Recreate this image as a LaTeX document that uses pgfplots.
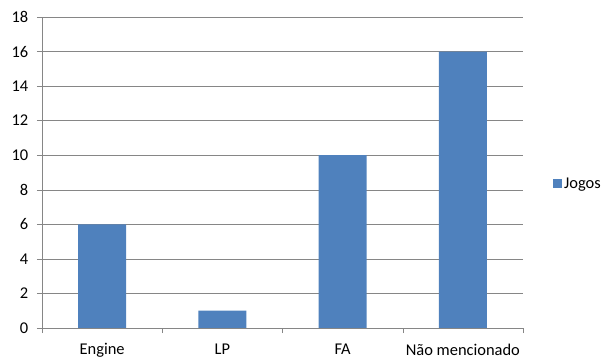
\documentclass[border=0pt]{standalone}
\usepackage{pgfplots}
\pgfplotsset{compat=1.18}
\usepackage{fontspec}
\setmainfont{Carlito}
\definecolor{barblue}{HTML}{4F81BD}
\definecolor{gridgray}{HTML}{868686}
\begin{document}
\fontsize{16.5}{19}\selectfont
\begin{tikzpicture}
\useasboundingbox (-42bp,-32bp) rectangle (561bp,328bp);
\begin{axis}[
  at={(0,0)}, anchor=south west,
  scale only axis,
  width=481bp, height=311bp,
  xmin=-0.5, xmax=3.5,
  ymin=0, ymax=18,
  ytick={0,2,...,18},
  xtick={0,1,2,3},
  xticklabels={Engine,LP,FA,Não mencionado},
  minor xtick={-0.5,0.5,1.5,2.5,3.5},
  major x tick style={draw=none},
  tick align=outside,
  major tick length=5bp,
  minor tick length=5bp,
  tick style={gridgray, thin},
  axis x line*=bottom,
  axis y line*=left,
  axis line style={gridgray, thin, -},
  ymajorgrids,
  major grid style={gridgray, thin},
  /pgf/number format/assume math mode=true,
  ticklabel style={font=\fontsize{16.5}{19}\selectfont},
  yticklabel style={xshift=-3bp},
  xticklabel style={yshift=-5bp},
  ybar, bar width=48bp,
  legend style={at={(511bp,144bp)}, anchor=west, draw=none, fill=none,
    font=\fontsize{16.5}{19}\selectfont, inner sep=0pt},
  legend image code/.code={\fill[barblue] (0bp,-4.5bp) rectangle (9bp,4.5bp);},
]
\addplot[fill=barblue, draw=none] coordinates {(0,6) (1,1) (2,10) (3,16)};
\addlegendentry{Jogos}
\end{axis}
\end{tikzpicture}
\end{document}
